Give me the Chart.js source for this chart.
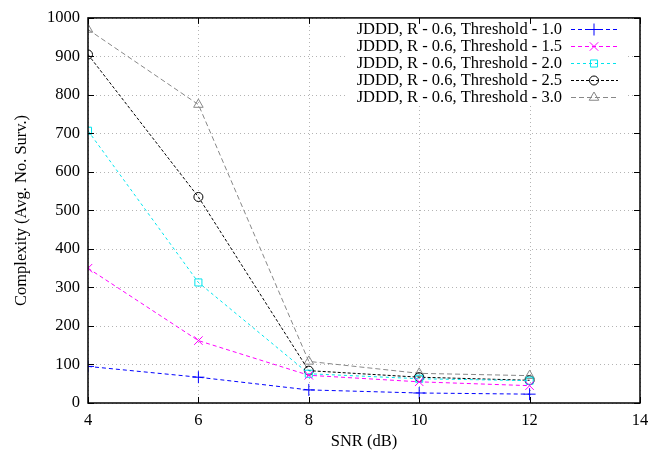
<!DOCTYPE html>
<html>
<head>
<meta charset="utf-8">
<script src="https://cdn.jsdelivr.net/npm/chart.js@4/dist/chart.umd.min.js"></script>
<style>body{margin:0;background:#fff;}</style>
</head>
<body>
<canvas id="myChart" width="661" height="454"></canvas>
<script>
// values
var snr = [4, 6, 8, 10, 12];
var thr10 = [95, 67, 34, 26, 23];
var thr15 = [350, 162, 72, 55, 45];
var thr20 = [707, 313, 76, 63, 58];
var thr25 = [905, 535, 84, 67, 59];
var thr30 = [970, 775, 108, 77, 71];
var seriesLabels = [
    "JDDD, R - 0.6, Threshold - 1.0",
    "JDDD, R - 0.6, Threshold - 1.5",
    "JDDD, R - 0.6, Threshold - 2.0",
    "JDDD, R - 0.6, Threshold - 2.5",
    "JDDD, R - 0.6, Threshold - 3.0"
];
var xTicks = [4, 6, 8, 10, 12, 14];
var yTicks = [0, 100, 200, 300, 400, 500, 600, 700, 800, 900, 1000];

var FONT = "'Liberation Serif', 'DejaVu Serif', serif";
var FSIZE = 16.5;

function pts(vals) {
    return vals.map(function (v, i) { return { x: snr[i], y: v }; });
}

function makeSet(label, vals, color, style, radius, dash) {
    return {
        label: label,
        data: pts(vals),
        borderColor: color,
        backgroundColor: 'rgba(0,0,0,0)',
        borderWidth: 1,
        borderDash: dash,
        pointStyle: style,
        pointRadius: radius,
        pointBorderColor: color,
        pointBackgroundColor: 'rgba(0,0,0,0)',
        pointBorderWidth: 1,
        tension: 0
    };
}

var datasets = [
    makeSet(seriesLabels[0], thr10, '#0000ff', 'cross', 6, [4, 3]),
    makeSet(seriesLabels[1], thr15, '#ff00ff', 'crossRot', 6, [4, 3]),
    makeSet(seriesLabels[2], thr20, '#00e5ee', 'rect', 5, [3, 3]),
    makeSet(seriesLabels[3], thr25, '#000000', 'circle', 4.5, [3, 2]),
    makeSet(seriesLabels[4], thr30, '#888888', 'triangle', 5.5, [5, 3])
];

// dotted grid + white key box, drawn before the lines
var gridAndKey = {
    id: 'gridAndKey',
    beforeDatasetsDraw: function (chart) {
        var ctx = chart.ctx;
        var a = chart.chartArea;
        var xs = chart.scales.x, ys = chart.scales.y;
        ctx.save();
        ctx.strokeStyle = '#b4b4b4';
        ctx.lineWidth = 1;
        ctx.setLineDash([1, 3]);
        ctx.beginPath();
        xs.ticks.forEach(function (t) {
            var px = Math.round(xs.getPixelForValue(t.value)) + 0.5;
            ctx.moveTo(px, a.bottom); ctx.lineTo(px, a.top);
        });
        ys.ticks.forEach(function (t) {
            var py = Math.round(ys.getPixelForValue(t.value)) + 0.5;
            ctx.moveTo(a.left, py); ctx.lineTo(a.right, py);
        });
        ctx.stroke();
        ctx.setLineDash([]);
        ctx.fillStyle = '#ffffff';
        ctx.fillRect(345, 18, 282, 87);
        ctx.restore();
    },
    afterDatasetsDraw: function (chart) {
        var ctx = chart.ctx;
        ctx.save();
        ctx.font = FSIZE + "px " + FONT;
        ctx.textAlign = 'right';
        ctx.textBaseline = 'middle';
        chart.data.datasets.forEach(function (ds, i) {
            var y = 29 + i * 17;
            ctx.fillStyle = '#000';
            ctx.fillText(ds.label, 562, y + 1);
            ctx.strokeStyle = ds.borderColor;
            ctx.lineWidth = 1;
            ctx.setLineDash(ds.borderDash);
            ctx.beginPath();
            ctx.moveTo(571, y + 0.5);
            ctx.lineTo(618, y + 0.5);
            ctx.stroke();
            ctx.setLineDash([]);
            ctx.fillStyle = 'rgba(0,0,0,0)';
            Chart.helpers.drawPoint(ctx, {
                pointStyle: ds.pointStyle,
                radius: ds.pointRadius,
                rotation: 0,
                borderWidth: 1
            }, 594, y + 0.5);
        });
        ctx.restore();
    }
};

// gnuplot style frame with inward ticks on all four sides
var frame = {
    id: 'frame',
    afterDraw: function (chart) {
        var ctx = chart.ctx;
        var a = chart.chartArea;
        var xs = chart.scales.x, ys = chart.scales.y;
        ctx.save();
        ctx.strokeStyle = '#000';
        ctx.lineWidth = 1;
        ctx.beginPath();
        xs.ticks.forEach(function (t) {
            var px = Math.round(xs.getPixelForValue(t.value)) + 0.5;
            ctx.moveTo(px, a.bottom); ctx.lineTo(px, a.bottom - 6);
            ctx.moveTo(px, a.top); ctx.lineTo(px, a.top + 6);
        });
        ys.ticks.forEach(function (t) {
            var py = Math.round(ys.getPixelForValue(t.value)) + 0.5;
            ctx.moveTo(a.left, py); ctx.lineTo(a.left + 6, py);
            ctx.moveTo(a.right, py); ctx.lineTo(a.right - 6, py);
        });
        ctx.stroke();
        ctx.lineWidth = 1.5;
        ctx.strokeRect(a.left, a.top, a.right - a.left, a.bottom - a.top);
        ctx.restore();
    }
};

new Chart(document.getElementById('myChart').getContext('2d'), {
    type: 'line',
    data: { datasets: datasets },
    options: {
        responsive: false,
        animation: false,
        layout: { padding: { top: 16, right: 21, left: 0, bottom: 0 } },
        plugins: { legend: { display: false }, tooltip: { enabled: false } },
        scales: {
            x: {
                type: 'linear',
                min: 4, max: 14,
                afterBuildTicks: function (s) { s.ticks = xTicks.map(function (v) { return { value: v }; }); },
                afterFit: function (s) { s.height = 51; },
                ticks: { color: '#000', font: { family: FONT, size: FSIZE }, padding: 8, maxRotation: 0,
                         callback: function (v) { return String(v); } },
                grid: { display: false, drawTicks: false },
                border: { display: false },
                title: { display: true, text: 'SNR (dB)', color: '#000', font: { family: FONT, size: FSIZE }, padding: { top: 0, bottom: 2 } }
            },
            y: {
                min: 0, max: 1000,
                afterBuildTicks: function (s) { s.ticks = yTicks.map(function (v) { return { value: v }; }); },
                afterFit: function (s) { s.width = 88; },
                ticks: { color: '#000', font: { family: FONT, size: FSIZE }, padding: 8,
                         callback: function (v) { return String(v); } },
                grid: { display: false, drawTicks: false },
                border: { display: false },
                title: { display: true, text: 'Complexity (Avg. No. Surv.)', color: '#000', font: { family: FONT, size: FSIZE }, padding: { top: 12, bottom: 0 } }
            }
        }
    },
    plugins: [gridAndKey, frame]
});
</script>
</body>
</html>
